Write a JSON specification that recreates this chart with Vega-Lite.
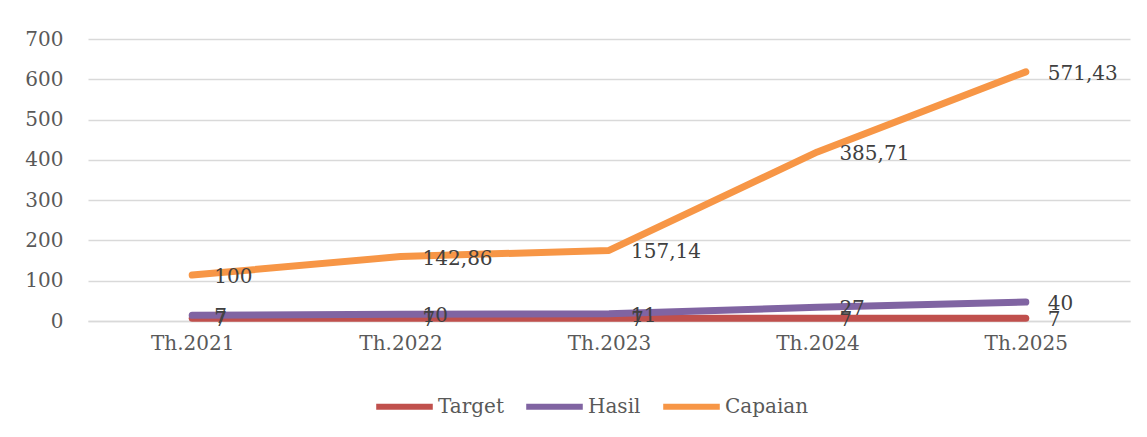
{
  "$schema": "https://vega.github.io/schema/vega-lite/v6.json",
  "width": 1042,
  "height": 282,
  "padding": {"left": 24, "top": 29, "right": 17, "bottom": 10},
  "autosize": {"type": "pad"},
  "background": "white",
  "config": {
    "font": "DejaVu Serif",
    "view": {"stroke": null},
    "locale": {"number": {"decimal": ",", "thousands": ".", "grouping": [3], "currency": ["", ""]}}
  },
  "data": {
    "values": [
      {"year": "Th.2021", "series": "Target", "idx": 1, "value": 7},
      {"year": "Th.2022", "series": "Target", "idx": 1, "value": 7},
      {"year": "Th.2023", "series": "Target", "idx": 1, "value": 7},
      {"year": "Th.2024", "series": "Target", "idx": 1, "value": 7},
      {"year": "Th.2025", "series": "Target", "idx": 1, "value": 7},
      {"year": "Th.2021", "series": "Hasil", "idx": 2, "value": 7},
      {"year": "Th.2022", "series": "Hasil", "idx": 2, "value": 10},
      {"year": "Th.2023", "series": "Hasil", "idx": 2, "value": 11},
      {"year": "Th.2024", "series": "Hasil", "idx": 2, "value": 27},
      {"year": "Th.2025", "series": "Hasil", "idx": 2, "value": 40},
      {"year": "Th.2021", "series": "Capaian", "idx": 3, "value": 100},
      {"year": "Th.2022", "series": "Capaian", "idx": 3, "value": 142.86},
      {"year": "Th.2023", "series": "Capaian", "idx": 3, "value": 157.14},
      {"year": "Th.2024", "series": "Capaian", "idx": 3, "value": 385.71},
      {"year": "Th.2025", "series": "Capaian", "idx": 3, "value": 571.43}
    ]
  },
  "transform": [
    {"stack": "value", "groupby": ["year"], "sort": [{"field": "idx", "order": "ascending"}], "as": ["v0", "v1"]}
  ],
  "encoding": {
    "x": {
      "field": "year", "type": "nominal", "sort": null,
      "scale": {"paddingInner": 0, "paddingOuter": 0.5},
      "axis": {"title": null, "labelAngle": 0, "labelFontSize": 20, "labelColor": "#595959", "ticks": false, "domainColor": "#d9d9d9", "domainWidth": 1.5, "labelPadding": 12}
    },
    "y": {
      "field": "v1", "type": "quantitative",
      "scale": {"domain": [0, 700], "nice": false},
      "axis": {"title": null, "values": [0, 100, 200, 300, 400, 500, 600, 700], "labelFontSize": 20, "labelColor": "#595959", "ticks": false, "domain": false, "gridColor": "#d9d9d9", "gridWidth": 1.5, "labelPadding": 25}
    }
  },
  "layer": [
    {
      "mark": {"type": "line", "strokeWidth": 7, "strokeCap": "round", "strokeJoin": "round"},
      "encoding": {
        "color": {
          "field": "series", "type": "nominal",
          "scale": {"domain": ["Target", "Hasil", "Capaian"], "range": ["#C0504D", "#8064A2", "#F79646"]},
          "legend": {
            "title": null, "orient": "none", "legendX": 285, "legendY": 336, "direction": "horizontal",
            "symbolType": "stroke", "symbolSize": 3200, "symbolStrokeWidth": 6,
            "labelFontSize": 20, "labelColor": "#595959", "labelOffset": 2,
            "columnPadding": 10
          }
        }
      }
    },
    {
      "mark": {"type": "text", "align": "left", "baseline": "middle", "dx": 22, "dy": 2, "fontSize": 20, "color": "#404040"},
      "encoding": {
        "text": {"field": "value", "type": "quantitative", "format": ".2~f"}
      }
    }
  ]
}
